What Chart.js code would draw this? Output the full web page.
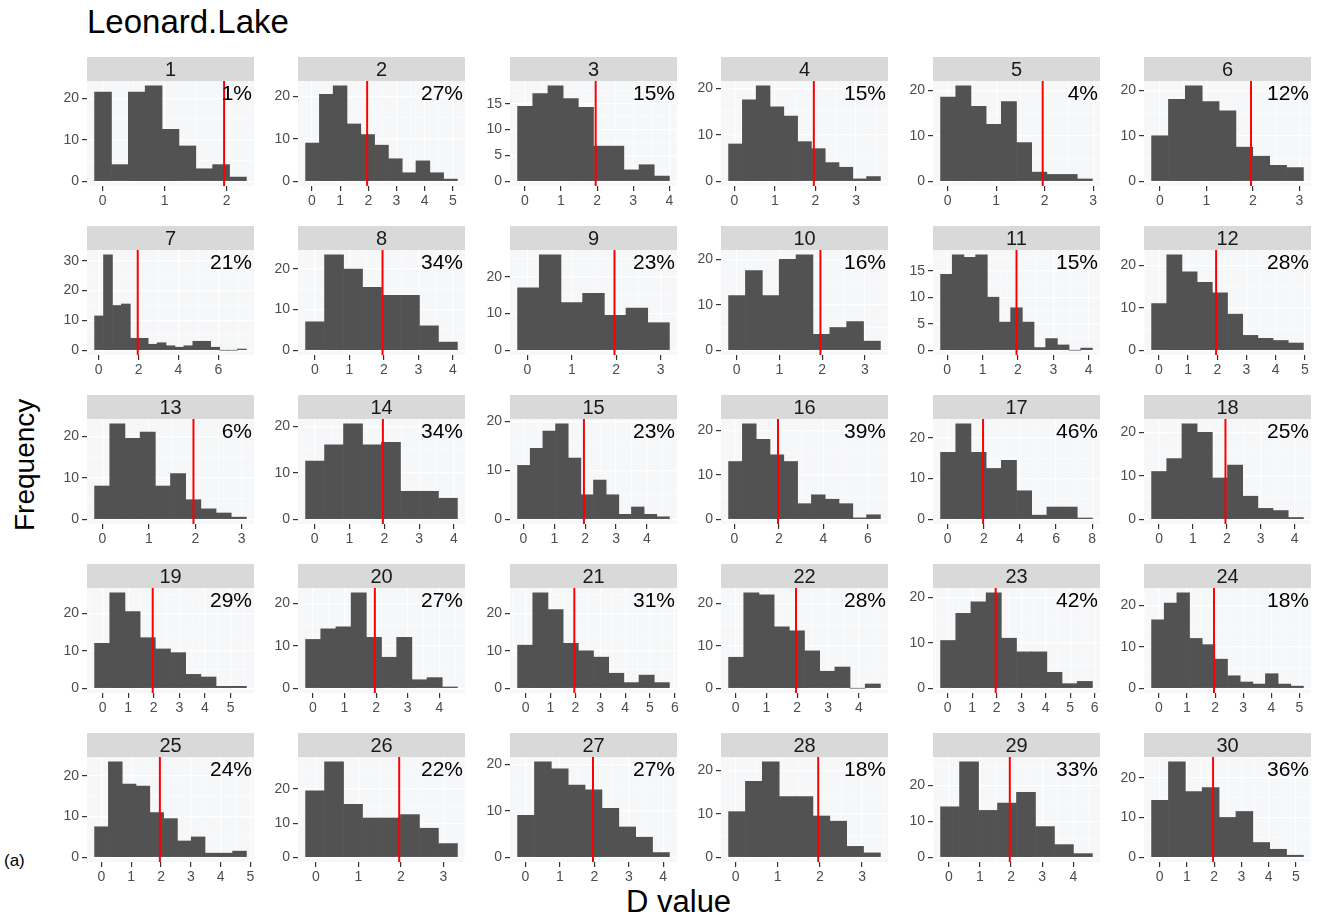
<!DOCTYPE html>
<html>
<head>
<meta charset="utf-8">
<script src="https://cdn.jsdelivr.net/npm/chart.js@4.4.1/dist/chart.umd.min.js"></script>
<style>
  body { margin: 0; background: #fff; font-family: "Liberation Sans", Arial, sans-serif; }
  #page { position: relative; width: 1320px; height: 918px; overflow: hidden; }
  .panel { position: absolute; }
  .txt { position: absolute; color: #000; white-space: nowrap; }
</style>
</head>
<body>
<div id="page">
  <div class="txt" style="left:87px; top:3px; font-size:33px;">Leonard.Lake</div>
  <div class="txt" style="left:-40px; top:450px; font-size:28px; transform: rotate(-90deg); transform-origin: center; width:130px; text-align:center;">Frequency</div>
  <div class="txt" style="left:626px; top:884px; font-size:31px;">D value</div>
  <div class="txt" style="left:4px; top:851px; font-size:17px;">(a)</div>
</div>
<script>
// facet labels and the share of values above the cutoff
const panelIds = ['1','2','3','4','5','6','7','8','9','10','11','12','13','14','15',
                  '16','17','18','19','20','21','22','23','24','25','26','27','28','29','30'];
const percentLabels = ['1%','27%','15%','15%','4%','12%','21%','34%','23%','16%','15%','28%','6%','34%','23%',
                       '39%','46%','25%','29%','27%','31%','28%','42%','18%','24%','22%','27%','18%','33%','36%'];

// left edge of the first bin and bin width for every panel
const binStart = [-0.128, -0.226, -0.2, -0.14, -0.145, -0.18, -0.2, -0.27, -0.22, -0.19, -0.185, -0.25, -0.17, -0.26, -0.19,
                  -0.26, -0.39, -0.22, -0.31, -0.23, -0.32, -0.23, -0.29, -0.26, -0.23, -0.24, -0.23, -0.165, -0.265, -0.3];
const binWidth = [0.272, 0.49, 0.42, 0.34, 0.313, 0.363, 0.447, 0.55, 0.488, 0.395, 0.33, 0.52, 0.327, 0.545, 0.41,
                  0.62, 0.84, 0.448, 0.593, 0.48, 0.61, 0.493, 0.62, 0.45, 0.463, 0.446, 0.49, 0.4, 0.61, 0.62];

// bin counts (frequency)
const counts = [
  [21.5, 4, 21.5, 23, 12.5, 8.5, 3, 4, 1],
  [9, 20.5, 22.5, 13.5, 11, 8.5, 5.3, 2, 4.8, 2, 0.5],
  [14.5, 17, 18.5, 16, 14.3, 6.8, 6.8, 2.2, 3.2, 1],
  [8, 17.5, 20.5, 16, 14, 8.5, 7, 4, 3, 0.5, 1],
  [18.5, 21, 16.5, 12.5, 17.5, 8.5, 2, 1.5, 1.5, 0.5],
  [10, 18, 21, 17.5, 15.5, 7.5, 5.5, 3.5, 3],
  [11.5, 32, 15, 15.5, 4, 4, 2, 2.5, 1.5, 1, 1.5, 3, 3, 1, 0, 0, 0.4],
  [7, 23.5, 20, 15.5, 13.5, 13.5, 6, 2],
  [17, 26, 13, 15.5, 9.5, 11.5, 7.5],
  [12, 17.5, 12, 20, 21, 3.5, 5, 6.3, 2],
  [14.3, 18, 17.5, 18, 10, 5.3, 8, 5.3, 0.5, 2.2, 1, 0, 0.4],
  [11, 22.5, 18.5, 16, 13.5, 8.5, 3.5, 2.8, 2.3, 1.7],
  [8, 23, 19.5, 21, 8, 11, 4.7, 2.5, 1.5, 0.5],
  [12.5, 16, 20.5, 16, 16.5, 6, 6, 4.5],
  [11, 14.5, 18, 19.5, 12.5, 5, 8, 5, 1, 2.5, 1, 0.5],
  [13, 21.5, 18, 14.5, 13, 3.5, 5.5, 4.5, 3.5, 0.3, 1],
  [16.5, 23.5, 16.5, 12.5, 14.5, 7, 1, 3, 3, 0.3],
  [11, 14, 22, 20, 9.5, 12.5, 5.3, 2.5, 2, 0.4],
  [12, 25.5, 20.5, 13.5, 10.5, 9.5, 3.7, 3, 0.5, 0.5],
  [11.5, 14, 14.5, 22.5, 12, 7.3, 12, 2, 2.5, 0.3],
  [11.5, 25.5, 21, 12, 10, 8.3, 4, 1.5, 3.5, 1.5],
  [7.3, 22.5, 22, 14.5, 13.5, 8.8, 4, 5, 0, 1],
  [10.5, 16.5, 19, 21, 11, 8, 8, 3.5, 1, 1.5],
  [16.5, 20.5, 23, 12, 10.5, 7, 3, 1.5, 1, 3.5, 1, 0.5],
  [7.5, 23.5, 18, 17.5, 11, 9.5, 4, 5, 1, 1, 1.5],
  [19.5, 28, 15.5, 11.5, 11.5, 12.5, 8.5, 4],
  [9, 20.5, 19, 15.5, 14.5, 10.5, 6.5, 4.3, 1],
  [10.5, 17.5, 22, 14, 14, 9.5, 8.3, 2.5, 1],
  [14, 26.5, 13, 15, 18, 8.5, 3.5, 1],
  [14.3, 24, 16.5, 17.5, 10, 11.5, 3.7, 2, 0.5]
];

// tick labels
const xTicks = [
  [0,1,2], [0,1,2,3,4,5], [0,1,2,3,4], [0,1,2,3], [0,1,2,3], [0,1,2,3],
  [0,2,4,6], [0,1,2,3,4], [0,1,2,3], [0,1,2,3], [0,1,2,3,4], [0,1,2,3,4,5],
  [0,1,2,3], [0,1,2,3,4], [0,1,2,3,4], [0,2,4,6], [0,2,4,6,8], [0,1,2,3,4],
  [0,1,2,3,4,5], [0,1,2,3,4], [0,1,2,3,4,5,6], [0,1,2,3,4], [0,1,2,3,4,5,6], [0,1,2,3,4,5],
  [0,1,2,3,4,5], [0,1,2,3], [0,1,2,3,4], [0,1,2,3], [0,1,2,3,4], [0,1,2,3,4,5]
];
const yTicks = [
  [0,10,20], [0,10,20], [0,5,10,15], [0,10,20], [0,10,20], [0,10,20],
  [0,10,20,30], [0,10,20], [0,10,20], [0,10,20], [0,5,10,15], [0,10,20],
  [0,10,20], [0,10,20], [0,10,20], [0,10,20], [0,10,20], [0,10,20],
  [0,10,20], [0,10,20], [0,10,20], [0,10,20], [0,10,20], [0,10,20],
  [0,10,20], [0,10,20], [0,10,20], [0,10,20], [0,10,20], [0,10,20]
];

const cutoff = 1.96;

const FONT = '"Liberation Sans", Arial, sans-serif';
const STRIP_H = 24, PLOT_H = 105, AXIS_W = 40, AXIS_H = 26, PLOT_W = 167;

// panel background, minor grid, strip, red cutoff line and percentage
const facetPlugin = {
  id: 'facet',
  beforeDraw(chart) {
    const {ctx, chartArea: a} = chart;
    ctx.save();
    ctx.fillStyle = '#f6f7f9';
    ctx.fillRect(a.left, a.top, a.width, a.height);
    ctx.restore();
  },
  beforeDatasetsDraw(chart) {
    const {ctx, chartArea: a, scales} = chart;
    ctx.save();
    ctx.strokeStyle = '#ffffff';
    ctx.lineWidth = 0.6;
    ['x', 'y'].forEach(k => {
      const s = scales[k];
      const vals = s.ticks.map(t => t.value);
      if (vals.length < 2) return;
      const step = vals[1] - vals[0];
      for (let v = vals[0] - step / 2; v <= s.max; v += step) {
        if (v < s.min) continue;
        const p = s.getPixelForValue(v);
        ctx.beginPath();
        if (k === 'x') { ctx.moveTo(p, a.top); ctx.lineTo(p, a.bottom); }
        else { ctx.moveTo(a.left, p); ctx.lineTo(a.right, p); }
        ctx.stroke();
      }
    });
    ctx.restore();
  },
  afterDatasetsDraw(chart, args, opts) {
    const {ctx, chartArea: a, scales} = chart;
    ctx.save();
    // strip
    ctx.fillStyle = '#d9d9d9';
    ctx.fillRect(a.left, 0, a.width, STRIP_H);
    ctx.fillStyle = '#1a1a1a';
    ctx.font = '20px ' + FONT;
    ctx.textAlign = 'center';
    ctx.textBaseline = 'middle';
    ctx.fillText(opts.label, (a.left + a.right) / 2, STRIP_H / 2 + 1);
    // cutoff line
    const xp = scales.x.getPixelForValue(cutoff);
    ctx.strokeStyle = '#ff0000';
    ctx.lineWidth = 2;
    ctx.beginPath();
    ctx.moveTo(xp, a.top);
    ctx.lineTo(xp, a.bottom);
    ctx.stroke();
    // percentage
    ctx.fillStyle = '#000';
    ctx.font = '21px ' + FONT;
    ctx.textAlign = 'right';
    ctx.textBaseline = 'alphabetic';
    ctx.fillText(opts.pct, a.right - 2, a.top + 19);
    ctx.restore();
  }
};

const page = document.getElementById('page');

panelIds.forEach((id, i) => {
  const col = i % 6, row = Math.floor(i / 6);
  const left = 87 + col * 211.4 - AXIS_W;
  const top = 57 + row * 169;

  const div = document.createElement('div');
  div.className = 'panel';
  div.style.left = left + 'px';
  div.style.top = top + 'px';
  div.style.width = (AXIS_W + PLOT_W + 4) + 'px';
  div.style.height = (STRIP_H + PLOT_H + AXIS_H) + 'px';
  const canvas = document.createElement('canvas');
  div.appendChild(canvas);
  page.appendChild(div);

  const c = counts[i];
  const range = c.length * binWidth[i];
  const maxC = Math.max(...c);
  const points = c.map((v, k) => ({x: binStart[i] + binWidth[i] * (k + 0.5), y: v}));

  new Chart(canvas, {
    type: 'bar',
    data: {
      datasets: [{
        data: points,
        backgroundColor: '#525252',
        borderWidth: 0,
        barPercentage: 1,
        categoryPercentage: 1
      }]
    },
    options: {
      responsive: true,
      maintainAspectRatio: false,
      devicePixelRatio: 1,
      animation: false,
      layout: { padding: { top: STRIP_H, right: 4, left: 0, bottom: 0 } },
      plugins: {
        legend: { display: false },
        tooltip: { enabled: false },
        facet: { label: id, pct: percentLabels[i] }
      },
      scales: {
        x: {
          type: 'linear',
          offset: false,
          min: binStart[i] - 0.05 * range,
          max: binStart[i] + 1.05 * range,
          afterBuildTicks: s => { s.ticks = xTicks[i].map(v => ({value: v})); },
          afterFit: s => { s.height = AXIS_H; s.paddingLeft = 0; s.paddingRight = 0; },
          grid: { offset: false, color: '#ffffff', lineWidth: 1.2, tickColor: '#333333', tickLength: 5, tickWidth: 1.2 },
          border: { display: false },
          ticks: { autoSkip: false, maxRotation: 0, padding: 2, color: '#4d4d4d', font: { family: FONT, size: 14 } }
        },
        y: {
          min: -0.05 * maxC,
          max: 1.05 * maxC,
          afterBuildTicks: s => { s.ticks = yTicks[i].map(v => ({value: v})); },
          afterFit: s => { s.width = AXIS_W; s.paddingTop = 0; s.paddingBottom = 0; },
          grid: { color: '#ffffff', lineWidth: 1.2, tickColor: '#333333', tickLength: 5, tickWidth: 1.2 },
          border: { display: false },
          ticks: { padding: 3, color: '#4d4d4d', font: { family: FONT, size: 14 } }
        }
      }
    },
    plugins: [facetPlugin]
  });
});
</script>
</body>
</html>
